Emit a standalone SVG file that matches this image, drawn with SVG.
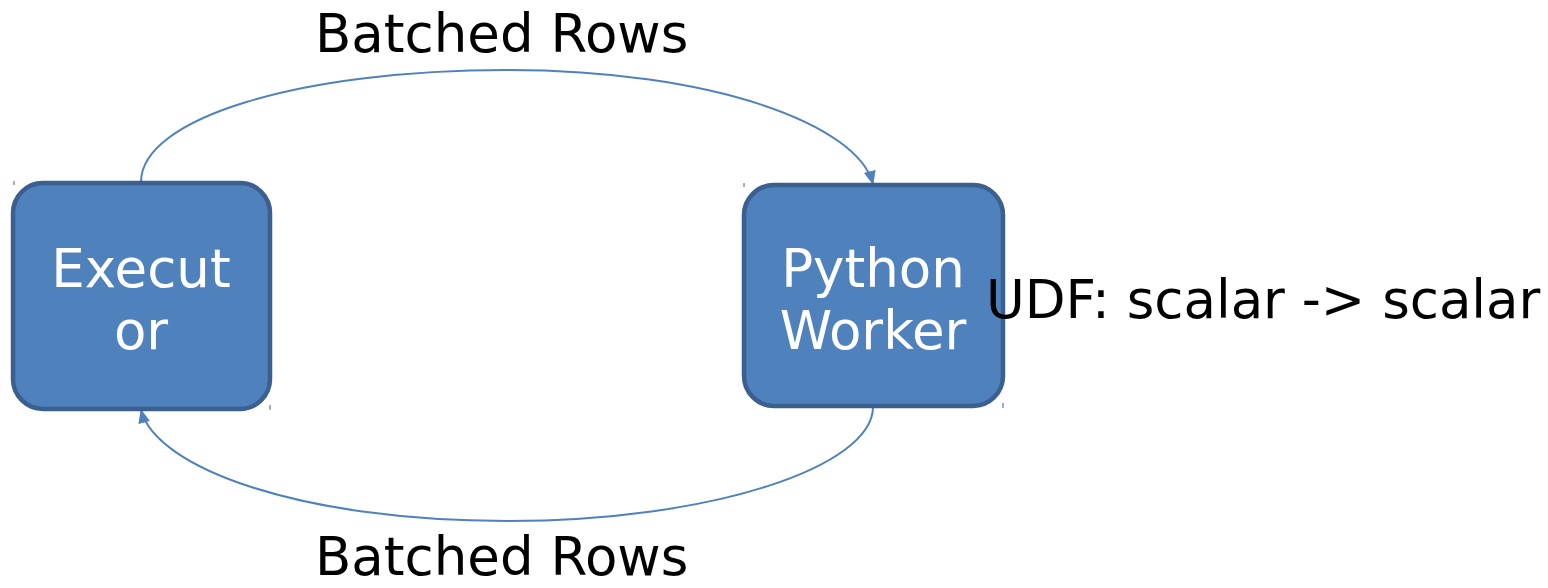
<svg xmlns="http://www.w3.org/2000/svg" width="1548" height="588" viewBox="0 0 1548 588">
  <style>
    .node rect { fill: #4f81bd; stroke: #3b6090; stroke-width: 4.5; }
    .node text { fill: #ffffff; font-family: "DejaVu Sans", sans-serif; font-size: 53px; text-anchor: middle; }
    .label { fill: #000000; font-family: "DejaVu Sans", sans-serif; font-size: 53px; }
    .edge { fill: none; stroke: #4f81bd; stroke-width: 2; }
    .tick { stroke: #3b6090; stroke-width: 1; }
  </style>
  <defs>
    <marker id="arrow" viewBox="0 0 14 12" refX="13" refY="6" markerWidth="14" markerHeight="12" markerUnits="userSpaceOnUse" orient="auto">
      <path d="M0,0 L14,6 L0,12 Z" fill="#4f81bd"/>
    </marker>
  </defs>

  <g id="connectors">
    <path class="edge" d="M141,182 C141,118 300,70 507,70 C714,70 858,125 873,184" marker-end="url(#arrow)"/>
    <path class="edge" d="M873,407 C873,466 714,521 507,521 C300,521 156,468 141,410" marker-end="url(#arrow)"/>
  </g>

  <g id="executor" class="node">
    <rect x="13" y="183" width="257" height="226" rx="30" ry="30"/>
    <text x="141" y="287">Execut</text>
    <text x="141" y="349">or</text>
    <line class="tick" x1="14" y1="181" x2="14" y2="185"/>
    <line class="tick" x1="270" y1="405" x2="270" y2="410"/>
  </g>

  <g id="python-worker" class="node">
    <rect x="744" y="185" width="259" height="221" rx="30" ry="30"/>
    <text x="873" y="287">Python</text>
    <text x="873" y="349">Worker</text>
    <line class="tick" x1="744" y1="183" x2="744" y2="187"/>
    <line class="tick" x1="1003" y1="403" x2="1003" y2="408"/>
  </g>

  <text class="label" x="315" y="52">Batched Rows</text>
  <text class="label" x="315" y="575">Batched Rows</text>
  <text class="label" x="986" y="318">UDF: scalar -&gt; scalar</text>
</svg>
